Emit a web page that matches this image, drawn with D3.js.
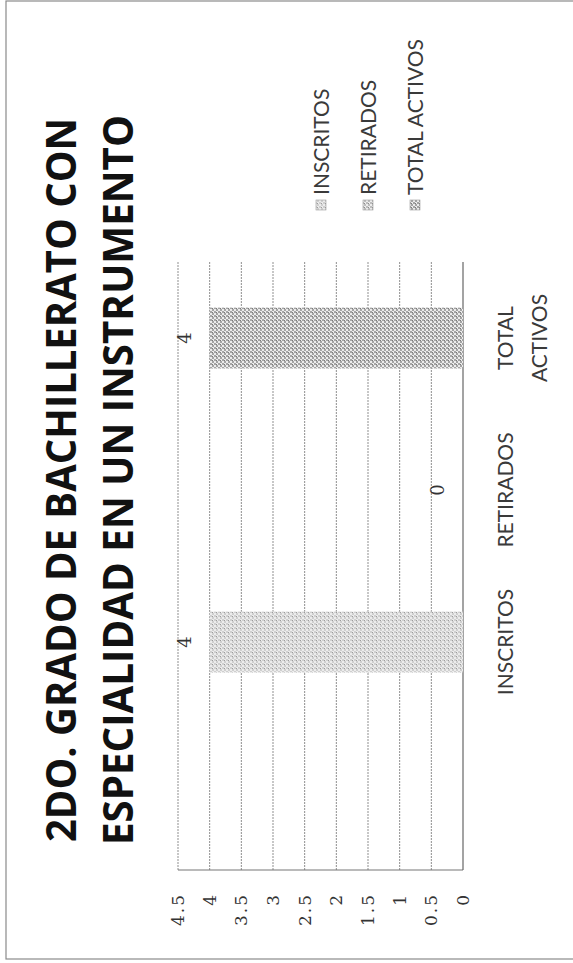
<!DOCTYPE html>
<html lang="es">
<head>
    <meta charset="UTF-8">
    <title>2do. grado de bachillerato</title>
    <script src="https://cdnjs.cloudflare.com/ajax/libs/d3/7.8.5/d3.min.js"></script>
    <style>
        * { margin: 0; padding: 0; }
        body { background: #fff; width: 573px; height: 963px; overflow: hidden; }
        svg { display: block; }
    </style>
</head>
<body>
    <div id="chart"></div>

    <script>
        // data
        const categories = ["INSCRITOS", "RETIRADOS", "TOTAL ACTIVOS"];
        const values = [4, 0, 4];
        const barColors = ["#cfcfcf", "#bdbdbd", "#a4a4a4"];
        const tickValues = [0, 0.5, 1, 1.5, 2, 2.5, 3, 3.5, 4, 4.5];
        const tickLabels = ["0", "0.5", "1", "1.5", "2", "2.5", "3", "3.5", "4", "4.5"];
        const titleLines = ["2DO. GRADO DE BACHILLERATO CON", "ESPECIALIDAD EN UN INSTRUMENTO"];

        const pageW = 573, pageH = 963;

        const svg = d3.select("#chart").append("svg")
            .attr("width", pageW)
            .attr("height", pageH);

        // halftone look of the scan
        const defs = svg.append("defs");
        barColors.forEach((c, i) => {
            const p = defs.append("pattern")
                .attr("id", "tone" + i)
                .attr("patternUnits", "userSpaceOnUse")
                .attr("width", 4).attr("height", 4);
            p.append("rect").attr("width", 4).attr("height", 4).attr("fill", "#ececec");
            p.append("rect").attr("x", 0).attr("y", 0).attr("width", 2).attr("height", 2).attr("fill", c);
            p.append("rect").attr("x", 2).attr("y", 2).attr("width", 2).attr("height", 2).attr("fill", c);
            p.append("rect").attr("x", 2).attr("y", 0).attr("width", 1).attr("height", 1)
                .attr("fill", d3.color(c).darker(0.8));
        });

        // the scanned chart is turned a quarter turn, so draw it upright and rotate
        const g = svg.append("g")
            .attr("transform", `translate(0,${pageH}) rotate(-90)`);

        // chart border
        g.append("rect")
            .attr("x", 4).attr("y", 6)
            .attr("width", 958).attr("height", 600)
            .attr("fill", "none")
            .attr("stroke", "#8a8a8a")
            .attr("stroke-width", 1.2);

        const plotLeft = 93, plotRight = 701;

        const x = d3.scaleBand()
            .domain(categories)
            .range([245, plotRight])
            .paddingInner(0.6)
            .paddingOuter(0.3);

        const y = d3.scaleLinear()
            .domain([0, 4.5])
            .range([463, 178]);

        // title
        g.append("g").selectAll("text")
            .data(titleLines)
            .join("text")
            .attr("x", 483)
            .attr("y", (d, i) => i === 0 ? 76 : 133)
            .attr("text-anchor", "middle")
            .attr("textLength", (d, i) => i === 0 ? 724 : 730)
            .attr("lengthAdjust", "spacingAndGlyphs")
            .style("font-family", "'Open Sans', 'Noto Sans', sans-serif")
            .style("font-weight", "bold")
            .style("font-size", "41px")
            .style("fill", "#111")
            .text(d => d);

        // gridlines
        g.append("g").selectAll("line")
            .data(tickValues.filter(d => d > 0))
            .join("line")
            .attr("x1", plotLeft).attr("x2", plotRight)
            .attr("y1", d => y(d)).attr("y2", d => y(d))
            .attr("stroke", "#8f8f8f")
            .attr("stroke-width", 1)
            .attr("stroke-dasharray", "2,1");

        // value axis line and category axis line
        g.append("line")
            .attr("x1", plotLeft).attr("x2", plotLeft)
            .attr("y1", y(4.5)).attr("y2", y(0))
            .attr("stroke", "#777").attr("stroke-width", 1.2);
        g.append("line")
            .attr("x1", plotLeft).attr("x2", plotRight)
            .attr("y1", y(0)).attr("y2", y(0))
            .attr("stroke", "#666").attr("stroke-width", 1.2);

        // value tick labels
        g.append("g").selectAll("text")
            .data(tickValues)
            .join("text")
            .attr("x", 70)
            .attr("y", d => y(d))
            .attr("dy", "0.36em")
            .attr("text-anchor", "end")
            .style("font-family", "'DejaVu Serif', serif")
            .style("font-size", "17px")
            .style("letter-spacing", "2px")
            .style("fill", "#333")
            .text((d, i) => tickLabels[i]);

        // bars
        g.append("g").selectAll("rect")
            .data(values)
            .join("rect")
            .attr("x", (d, i) => x(categories[i]))
            .attr("width", x.bandwidth())
            .attr("y", d => y(d))
            .attr("height", d => y(0) - y(d))
            .attr("fill", (d, i) => `url(#tone${i})`);

        // data labels
        g.append("g").selectAll("text")
            .data(values)
            .join("text")
            .attr("x", (d, i) => x(categories[i]) + x.bandwidth() / 2)
            .attr("y", d => y(d) - 19)
            .attr("text-anchor", "middle")
            .style("font-family", "'DejaVu Serif', serif")
            .style("font-size", "18px")
            .style("fill", "#333")
            .text(d => d);

        // category labels, long ones wrap on two lines
        const catLabels = g.append("g").selectAll("text")
            .data(categories)
            .join("text")
            .attr("text-anchor", "middle")
            .style("font-family", "Lato, 'Open Sans', sans-serif")
            .style("font-size", "21px")
            .style("fill", "#3a3a3a");
        catLabels.each(function(d) {
            const words = d.split(" ");
            const cx = x(d) + x.bandwidth() / 2;
            words.forEach((w, k) => {
                d3.select(this).append("tspan")
                    .attr("x", cx)
                    .attr("y", 513 + k * 34)
                    .text(w);
            });
        });

        // legend
        const legend = g.append("g").selectAll("g")
            .data(categories)
            .join("g")
            .attr("transform", (d, i) => `translate(753,${329 + i * 47})`);

        legend.append("rect")
            .attr("x", 0).attr("y", -13)
            .attr("width", 10).attr("height", 10)
            .attr("fill", (d, i) => `url(#tone${i})`)
            .attr("stroke", "#999")
            .attr("stroke-width", 0.6);

        legend.append("text")
            .attr("x", 15)
            .attr("y", 0)
            .style("font-family", "Lato, 'Open Sans', sans-serif")
            .style("font-size", "21px")
            .style("fill", "#3a3a3a")
            .text(d => d);
    </script>
</body>
</html>
